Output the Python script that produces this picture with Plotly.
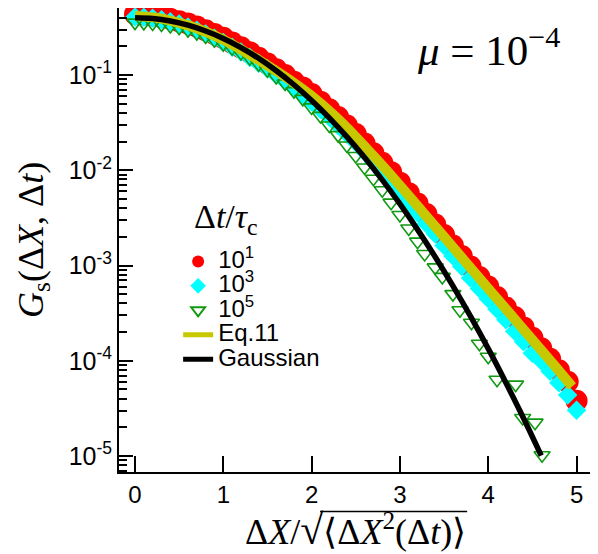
import plotly.graph_objects as go

# ---- data ----
x_r = [0.0, 0.1, 0.2, 0.3, 0.4, 0.5, 0.6, 0.7, 0.8, 0.9, 1.0, 1.1, 1.2, 1.3, 1.4, 1.5, 1.6, 1.7, 1.8, 1.9,
       2.0, 2.1, 2.2, 2.3, 2.4, 2.5, 2.6, 2.7, 2.8, 2.9, 3.0, 3.1, 3.2, 3.3, 3.4, 3.5, 3.6, 3.7, 3.8, 3.9,
       4.0, 4.1, 4.2, 4.3, 4.4, 4.5, 4.6, 4.7, 4.8, 4.9, 5.0]
g_r = [0.4365, 0.4315, 0.4217, 0.4074, 0.3890, 0.3673, 0.3467, 0.3236, 0.2951, 0.2692,
       0.2455, 0.2188, 0.1950, 0.1738, 0.1514, 0.1318, 0.1148, 0.1000, 0.0851, 0.0741,
       0.0631, 0.0525, 0.0437, 0.0363, 0.0295, 0.0240, 0.0191, 0.0151, 0.0120, 0.00955,
       0.00741, 0.00575, 0.00447, 0.00347, 0.00269, 0.00209, 0.00162, 0.00126, 9.77e-4, 7.59e-4,
       6.03e-4, 4.68e-4, 3.63e-4, 2.88e-4, 2.24e-4, 1.74e-4, 1.35e-4, 1.05e-4, 7.94e-5, 6.03e-5,
       3.80e-5]

x_c = x_r
g_c = [0.407, 0.403, 0.394, 0.380, 0.363, 0.343, 0.320, 0.295, 0.269, 0.243,
       0.219, 0.195, 0.174, 0.153, 0.133, 0.116, 0.100, 0.0861, 0.0733, 0.0624,
       0.0525, 0.0437, 0.0363, 0.0295, 0.0240, 0.0195, 0.0155, 0.0123, 0.00955, 0.00759,
       0.00589, 0.00457, 0.00355, 0.00275, 0.00214, 0.00162, 0.00126, 9.77e-4, 7.41e-4, 5.75e-4,
       4.47e-4, 3.47e-4, 2.69e-4, 2.04e-4, 1.58e-4, 1.20e-4, 1.00e-4, 7.76e-5, 5.89e-5, 4.37e-5,
       3.02e-5]

x_g = [0.0, 0.1, 0.2, 0.3, 0.4, 0.5, 0.6, 0.7, 0.8, 0.9, 1.0, 1.1, 1.2, 1.3, 1.4, 1.5, 1.6, 1.7, 1.8, 1.9,
       2.0, 2.1, 2.2, 2.3, 2.4, 2.5, 2.6, 2.7, 2.8, 2.9, 3.0, 3.1, 3.2,
       3.28, 3.40, 3.48, 3.60, 3.68, 3.81, 3.90, 4.00, 4.10, 4.31, 4.39, 4.53, 4.61]
g_g = [0.355, 0.353, 0.347, 0.339, 0.327, 0.313, 0.295, 0.275, 0.254, 0.232,
       0.211, 0.191, 0.170, 0.150, 0.130, 0.112, 0.0955, 0.0813, 0.0676, 0.0562,
       0.0457, 0.0372, 0.0295, 0.0234, 0.0182, 0.0141, 0.0107, 0.00813, 0.00617, 0.00457,
       0.00339, 0.00245, 0.00178,
       0.00132, 9.55e-4, 7.59e-4, 5.01e-4, 3.39e-4, 2.51e-4, 1.51e-4, 1.10e-4, 6.31e-5,
       5.62e-5, 2.51e-5, 2.24e-5, 1.02e-5]

x_eq = [0.0, 0.25, 0.5, 0.75, 1.0, 1.25, 1.5, 1.75, 2.0, 2.25, 2.5, 2.75, 3.0, 3.25, 3.5, 3.75,
        4.0, 4.25, 4.5, 4.75, 4.95]
g_eq = [0.417, 0.398, 0.352, 0.297, 0.234, 0.174, 0.126, 0.0891, 0.0603, 0.0380, 0.0224, 0.0126,
        0.00692, 0.00372, 0.00200, 0.00107, 5.75e-4, 3.09e-4, 1.66e-4, 8.91e-5, 5.37e-5]

x_gauss = [0.0, 0.2, 0.4, 0.6, 0.8, 1.0, 1.2, 1.4, 1.6, 1.8, 2.0, 2.2, 2.4, 2.6, 2.8, 3.0,
           3.2, 3.4, 3.6, 3.8, 4.0, 4.2, 4.4, 4.6]
g_gauss = [0.3989, 0.3910, 0.3683, 0.3332, 0.2897, 0.2420, 0.1942, 0.1497, 0.1109, 0.0790,
           0.0540, 0.0355, 0.0224, 0.0136, 0.00792, 0.00443, 0.00238, 0.00123, 6.12e-4,
           2.92e-4, 1.34e-4, 5.89e-5, 2.49e-5, 1.01e-5]

names = ["10<sup>1</sup>", "10<sup>3</sup>", "10<sup>5</sup>", "Eq.11", "Gaussian"]
legend_title = "Δ<i>t</i>/<i>τ</i><sub>c</sub>"
y_tickvals = [1e-5, 1e-4, 1e-3, 1e-2, 1e-1]
y_ticktext = ["10<sup>-5</sup>", "10<sup>-4</sup>", "10<sup>-3</sup>", "10<sup>-2</sup>", "10<sup>-1</sup>"]
x_tickvals = [0, 1, 2, 3, 4, 5]

SANS = "Liberation Sans, Arial, sans-serif"
SERIF = "Liberation Serif, Times New Roman, serif"


def big(s, px):
    return "<span style='font-size:%dpx'>%s</span>" % (px, s)


fig = go.Figure()
fig.add_trace(go.Scatter(x=x_r, y=g_r, mode="markers", name=big(names[0], 24), cliponaxis=False,
                         marker=dict(symbol="circle", size=22, color="#ff0000")))
fig.add_trace(go.Scatter(x=x_c, y=g_c, mode="markers", name=big(names[1], 24), cliponaxis=False,
                         marker=dict(symbol="diamond", size=15, color="#00ffff")))
fig.add_trace(go.Scatter(x=x_g, y=g_g, mode="markers", name=big(names[2], 24), cliponaxis=False,
                         marker=dict(symbol="triangle-down-open", size=14, color="#119911",
                                     line=dict(width=1.6, color="#119911"))))
fig.add_trace(go.Scatter(x=x_eq, y=g_eq, mode="lines", name=big(names[3], 24),
                         line=dict(color="#c8c800", width=10, shape="spline")))
fig.add_trace(go.Scatter(x=x_gauss, y=g_gauss, mode="lines", name=big(names[4], 24),
                         line=dict(color="#000000", width=5.5, shape="spline")))

minor_vals = [m * 10.0 ** e for e in range(-6, 0) for m in range(2, 10)]

# page has an 8px body offset; figure is sized so the plot lands where the reference has it
fig.update_layout(
    width=590, height=546,
    margin=dict(l=111, r=6, t=0, b=82),
    paper_bgcolor="white", plot_bgcolor="white",
    showlegend=True,
    legend=dict(
        x=0.125, y=0.491, xanchor="left", yanchor="top",
        bgcolor="rgba(0,0,0,0)",
        font=dict(family=SANS, size=16.5, color="black"),
        itemsizing="constant",
        tracegroupgap=0,
    ),
    xaxis=dict(
        range=[-0.181, 5.175], tickvals=x_tickvals, automargin=False,
        ticks="inside", ticklen=16, tickwidth=2, tickcolor="black",
        showline=True, linewidth=2, linecolor="black", mirror=True,
        showgrid=False, zeroline=False,
        tickfont=dict(family=SANS, size=24, color="black"),
    ),
    yaxis=dict(
        type="log", range=[-5.168, -0.2966], automargin=False,
        tickmode="array", tickvals=y_tickvals, ticktext=y_ticktext,
        ticks="inside", ticklen=14, tickwidth=2, tickcolor="black",
        minor=dict(tickmode="array", tickvals=minor_vals, ticks="inside", ticklen=8,
                   tickwidth=1.5, tickcolor="black", showgrid=False),
        showline=True, linewidth=2, linecolor="black", mirror=True,
        showgrid=False, zeroline=False,
        tickfont=dict(family=SANS, size=25, color="black"),
    ),
)

# legend title
fig.add_annotation(
    x=0.226, y=0.545, xref="paper", yref="paper", showarrow=False,
    xanchor="center", yanchor="middle",
    text=legend_title,
    font=dict(family=SERIF, size=34, color="black"),
)
# y-axis title
fig.add_annotation(
    x=-0.182, y=0.5, xref="paper", yref="paper", showarrow=False, textangle=-90,
    xanchor="center", yanchor="middle",
    text="<i>G</i><sub>s</sub>(Δ<i>X</i>, Δ<i>t</i>)",
    font=dict(family=SERIF, size=36, color="black"),
)
# x-axis title
fig.add_annotation(
    x=0.5, y=-0.126, xref="paper", yref="paper", showarrow=False,
    xanchor="center", yanchor="middle",
    text="Δ<i>X</i>/<span style='font-size:42px'>√</span>⟨Δ<i>X</i><sup>2</sup>(Δ<i>t</i>)⟩",
    font=dict(family=SERIF, size=36, color="black"),
)
# radical overline
fig.add_shape(type="line", xref="paper", yref="paper",
              x0=0.425, x1=0.736, y0=-0.085, y1=-0.085,
              line=dict(color="black", width=1.5))

fig.add_annotation(
    x=0.782, y=0.915, xref="paper", yref="paper", showarrow=False,
    xanchor="center", yanchor="middle",
    text="<i>μ</i>\u00a0=\u00a010<sup>−4</sup>",
    font=dict(family=SERIF, size=43, color="black"),
)

fig.write_html("out.html")
